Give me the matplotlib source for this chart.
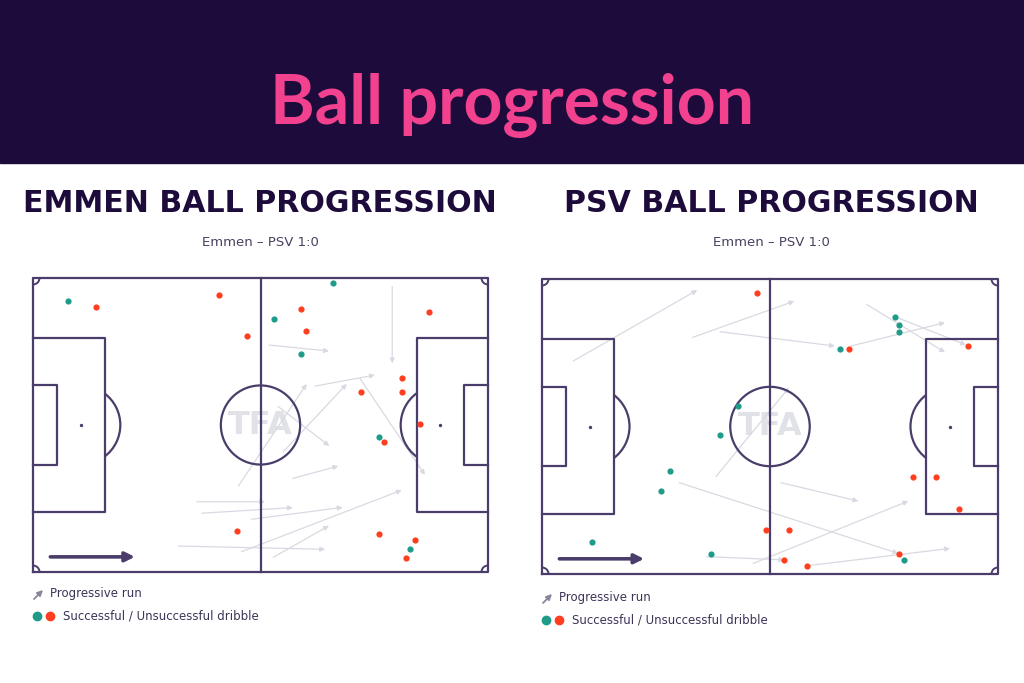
import matplotlib
matplotlib.use("Agg")
import matplotlib.pyplot as plt
from matplotlib.patches import Rectangle, Arc, Circle, FancyArrowPatch
from matplotlib.lines import Line2D

# pitch is 105 x 68, y measured from the bottom touchline
EMMEN_WON_X = [8.15, 69.3, 55.55, 61.85, 79.85, 87.05]
EMMEN_WON_Y = [62.75, 66.8, 58.6, 50.35, 31.3, 5.25]
EMMEN_LOST_X = [14.45, 42.9, 49.3, 61.85, 62.95, 91.4, 85.1, 85.1, 75.6, 89.25,
                80.95, 79.85, 88.15, 86.15, 47.15]
EMMEN_LOST_Y = [61.2, 64.05, 54.6, 60.75, 55.8, 60.05, 44.95, 41.7, 41.7, 34.15,
                30.0, 8.7, 7.4, 3.25, 9.5]
EMMEN_RUN_X0 = [54.45, 82.9, 65.1, 47.4, 57.75, 56.6, 75.45, 59.95, 37.8, 38.95, 50.45, 48.15, 55.45, 33.55]
EMMEN_RUN_Y0 = [52.5, 66.0, 43.0, 19.9, 27.8, 38.25, 44.8, 21.65, 16.25, 13.6, 12.2, 4.7, 3.4, 6.0]
EMMEN_RUN_X1 = [68.3, 82.9, 78.9, 63.15, 72.4, 68.4, 90.45, 70.45, 53.55, 59.95, 71.45, 85.1, 68.3, 67.4]
EMMEN_RUN_Y1 = [51.1, 48.25, 45.55, 43.5, 43.5, 29.15, 22.45, 24.5, 16.25, 14.9, 14.95, 18.95, 10.7, 5.25]

PSV_WON_X = [45.2, 81.3, 82.15, 82.15, 68.55, 41.05, 29.4, 27.4, 11.5, 39.0, 83.3]
PSV_WON_Y = [38.75, 59.3, 57.4, 55.85, 51.95, 32.05, 23.75, 19.05, 7.4, 4.6, 3.25]
PSV_LOST_X = [49.6, 70.7, 98.0, 51.6, 85.5, 90.7, 96.0, 56.85, 55.8, 61.1, 82.2]
PSV_LOST_Y = [64.85, 51.95, 52.6, 10.15, 22.3, 22.3, 14.9, 10.15, 3.25, 1.9, 4.6]
PSV_RUN_X0 = [7.2, 34.7, 41.0, 71.15, 74.75, 81.3, 40.05, 31.6, 37.9, 48.65, 55.05, 61.1]
PSV_RUN_Y0 = [49.1, 54.55, 55.85, 52.55, 62.15, 59.3, 22.45, 21.05, 4.0, 2.45, 21.05, 1.9]
PSV_RUN_X1 = [35.75, 58.1, 67.45, 92.8, 92.8, 97.6, 56.85, 82.05, 55.8, 84.35, 72.85, 93.95]
PSV_RUN_Y1 = [65.45, 62.9, 52.55, 57.95, 51.1, 52.8, 42.95, 4.75, 3.25, 16.8, 16.8, 5.9]

TITLE = "Ball progression"
PANEL_TITLES = ["EMMEN BALL PROGRESSION", "PSV BALL PROGRESSION"]
MATCH = "Emmen \u2013 PSV 1:0"

NAVY = "#1c0b3b"
PINK = "#f2418e"
LINE = "#4a3d6b"
TEAL = "#1f9b8a"
RED = "#ff3d1f"
RUN = "#d9d9e3"

W, H = 1024, 683


def fx(x):
    return x / W


def fy(y):
    return 1 - y / H


def draw_pitch(ax):
    ax.set_facecolor("#f9f9fb")
    kw = dict(color=LINE, lw=1.6, zorder=2, solid_joinstyle="round", clip_on=False)
    ax.plot([0, 105, 105, 0, 0], [0, 0, 68, 68, 0], **kw)
    ax.plot([52.5, 52.5], [0, 68], **kw)
    ax.add_patch(Circle((52.5, 34), 9.15, fill=False, ec=LINE, lw=1.6, zorder=2))
    for side in (0, 1):
        s = 1 if side == 0 else -1
        x0 = 0 if side == 0 else 105
        ax.plot([x0, x0 + s * 16.5, x0 + s * 16.5, x0], [13.85, 13.85, 54.15, 54.15], **kw)
        ax.plot([x0, x0 + s * 5.5, x0 + s * 5.5, x0], [24.84, 24.84, 43.16, 43.16], **kw)
        ax.scatter([x0 + s * 11], [34], s=2, color=LINE, zorder=2)
        th = (-53, 53) if side == 0 else (127, 233)
        ax.add_patch(Arc((x0 + s * 11, 34), 18.3, 18.3, theta1=th[0], theta2=th[1],
                         ec=LINE, lw=1.6, zorder=2))
    for (cx, cy, a) in [(0, 0, 0), (105, 0, 90), (105, 68, 180), (0, 68, 270)]:
        ax.add_patch(Arc((cx, cy), 3, 3, theta1=a, theta2=a + 90, ec=LINE, lw=1.4,
                         zorder=2, clip_on=False))
    ax.text(52.5, 34, "TFA", ha="center", va="center", fontsize=23, fontweight="bold",
            color="#e1e1e8", zorder=1.5, family="DejaVu Sans")
    ax.annotate("", xy=(23.5, 3.5), xytext=(4, 3.5),
                arrowprops=dict(arrowstyle="-|>", color=LINE, lw=2.6, mutation_scale=14,
                                shrinkA=0, shrinkB=0), zorder=3)
    ax.set_xlim(0, 105)
    ax.set_ylim(0, 68)
    ax.axis("off")
    ax.patch.set_visible(True)


def draw_panel(rect, won_x, won_y, lost_x, lost_y, rx0, ry0, rx1, ry1):
    ax = fig.add_axes(rect)
    draw_pitch(ax)
    for a, b, c, d in zip(rx0, ry0, rx1, ry1):
        ax.annotate("", xy=(c, d), xytext=(a, b),
                    arrowprops=dict(arrowstyle="-|>", color=RUN, lw=0.9, mutation_scale=7,
                                    shrinkA=0, shrinkB=0), zorder=1.8)
    ax.scatter(won_x, won_y, s=20, color=TEAL, zorder=4, linewidths=0)
    ax.scatter(lost_x, lost_y, s=20, color=RED, zorder=4, linewidths=0)
    return ax


fig = plt.figure(figsize=(W / 100, H / 100), dpi=100)
fig.patch.set_facecolor("white")
fig.patches.append(Rectangle((0, fy(163)), 1, 1 - fy(163), transform=fig.transFigure,
                             color=NAVY, zorder=0))
fig.text(0.5, fy(106), TITLE, ha="center", va="center", color=PINK, fontsize=49,
         fontweight="bold", family="Lato")

draw_panel([fx(33), fy(572), fx(455), 294 / H], EMMEN_WON_X, EMMEN_WON_Y,
           EMMEN_LOST_X, EMMEN_LOST_Y, EMMEN_RUN_X0, EMMEN_RUN_Y0, EMMEN_RUN_X1, EMMEN_RUN_Y1)
draw_panel([fx(542), fy(574), fx(456), 295 / H], PSV_WON_X, PSV_WON_Y,
           PSV_LOST_X, PSV_LOST_Y, PSV_RUN_X0, PSV_RUN_Y0, PSV_RUN_X1, PSV_RUN_Y1)

for cx, title in [(260, PANEL_TITLES[0]), (771, PANEL_TITLES[1])]:
    fig.text(fx(cx), fy(204), title, ha="center", va="center", color=NAVY, fontsize=21.6,
             fontweight="heavy", family="DejaVu Sans")
    fig.text(fx(cx), fy(243), MATCH, ha="center", va="center", color="#4b4060", fontsize=9.5,
             family="DejaVu Sans")

# legends
for x0, ly in [(33, 594), (542, 598)]:
    fig.patches.append(FancyArrowPatch(
        (fx(x0 + 1), fy(ly + 5)), (fx(x0 + 10), fy(ly - 4)), transform=fig.transFigure,
        arrowstyle="-|>", mutation_scale=8, color="#8a8598", lw=1.3, shrinkA=0, shrinkB=0))
    fig.text(fx(x0 + 17), fy(ly), "Progressive run", ha="left", va="center",
             color="#3d3356", fontsize=8.5, family="DejaVu Sans")
    dy = ly + 22
    fig.add_artist(Line2D([fx(x0 + 4)], [fy(dy)], marker="o", markersize=6, color=TEAL,
                          linestyle="none", transform=fig.transFigure))
    fig.add_artist(Line2D([fx(x0 + 17)], [fy(dy)], marker="o", markersize=6, color=RED,
                          linestyle="none", transform=fig.transFigure))
    fig.text(fx(x0 + 30), fy(dy), "Successful / Unsuccessful dribble", ha="left", va="center",
             color="#3d3356", fontsize=8.5, family="DejaVu Sans")

fig.savefig("out.png", dpi=100)
